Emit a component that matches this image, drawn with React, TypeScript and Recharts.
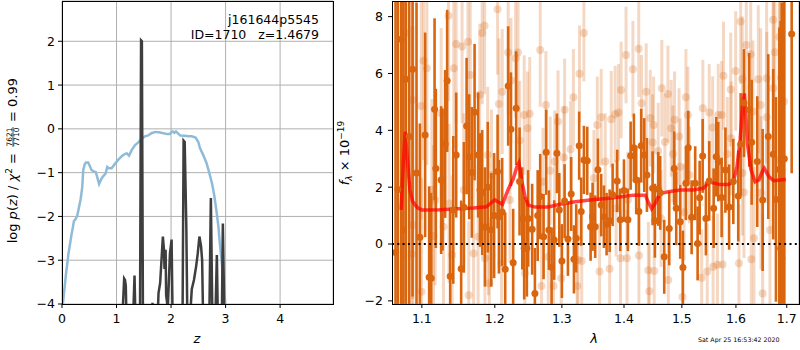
import React from 'react';
import {
  LineChart,
  ComposedChart,
  Line,
  Scatter,
  ErrorBar,
  XAxis,
  YAxis,
  CartesianGrid,
} from 'recharts';

// ---- left panel: log p(z) ----
const zTicks = [0, 1, 2, 3, 4];
const pzTicks = [-4, -3, -2, -1, 0, 1, 2];

// smooth p(z) curve [z, log p]
const pzCurve: [number, number][] = [
  [0.0, -4.4], [0.02, -3.95], [0.07, -3.35], [0.12, -2.84], [0.17, -2.45], [0.22, -2.1],
  [0.25, -2.06], [0.28, -1.98], [0.34, -1.62], [0.37, -1.35], [0.39, -0.94], [0.42, -0.8],
  [0.44, -0.77], [0.48, -0.77], [0.51, -0.85], [0.54, -0.94], [0.58, -0.97], [0.62, -0.99],
  [0.65, -1.12], [0.68, -1.26], [0.72, -1.15], [0.75, -1.09], [0.8, -1.02], [0.83, -0.87],
  [0.86, -0.9], [0.91, -0.9], [0.97, -0.8], [1.03, -0.71], [1.1, -0.62], [1.16, -0.57],
  [1.19, -0.56], [1.23, -0.61], [1.28, -0.48], [1.34, -0.37], [1.4, -0.31], [1.46, -0.23],
  [1.52, -0.17], [1.58, -0.15], [1.64, -0.1], [1.71, -0.07], [1.78, -0.08], [1.86, -0.1],
  [1.93, -0.12], [1.98, -0.12], [2.01, -0.07], [2.03, -0.06], [2.06, -0.09], [2.09, -0.06],
  [2.13, -0.11], [2.17, -0.15], [2.25, -0.16], [2.32, -0.17], [2.38, -0.17], [2.45, -0.2],
  [2.5, -0.3], [2.53, -0.44], [2.59, -0.6], [2.65, -0.78], [2.7, -1.0], [2.75, -1.24],
  [2.79, -1.5], [2.83, -1.85], [2.87, -2.25], [2.9, -2.69], [2.93, -3.05], [2.96, -3.45],
  [2.99, -3.94], [3.03, -4.5],
];

// spiky chi2 curve [z, log p]
const chiCurve: [number, number][] = [
  [1.1, -4.5], [1.14, -3.42], [1.155, -3.45], [1.17, -3.58], [1.185, -4.5],
  [1.3, -4.5], [1.33, -3.35], [1.35, -4.5],
  [1.43, -4.5], [1.45, 2.02], [1.465, 2.0], [1.485, -4.5],
  [1.64, -4.5], [1.66, -3.97], [1.68, -4.5],
  [1.75, -4.5], [1.77, -3.75], [1.8, -3.52], [1.85, -2.46], [1.87, -2.76], [1.88, -3.2],
  [1.9, -2.76], [1.91, -3.8], [1.94, -4.1], [1.98, -2.84], [2.01, -2.53], [2.03, -4.5],
  [2.21, -4.5], [2.23, -0.27], [2.25, -0.3], [2.28, -2.23], [2.3, -4.5],
  [2.34, -4.5], [2.38, -3.66], [2.42, -3.45], [2.46, -3.14], [2.49, -2.84], [2.52, -2.46],
  [2.55, -2.68], [2.57, -3.0], [2.59, -4.5],
  [2.7, -4.5], [2.73, -1.58], [2.76, -4.5],
  [2.81, -4.5], [2.84, -2.88], [2.86, -4.5],
  [2.93, -4.5], [2.95, -2.16], [2.98, -4.5],
];

// ---- right panel: spectrum ----
const lamTicks = [1.1, 1.2, 1.3, 1.4, 1.5, 1.6, 1.7];
const fluxTicks = [-2, 0, 2, 4, 6, 8];

// good pixels [lambda, flux, err]
const darkPts: [number, number, number][] = [
  [1.066, -0.3, 10], [1.069, 1.92, 11], [1.0732, 7.2, 11], [1.076, 0.5, 10], [1.0792, 5.8, 9],
  [1.0835, 3.78, 9], [1.0879, 6.15, 8], [1.093, 2.5, 6], [1.0974, 0.24, 4], [1.1043, 3.84, 3.6],
  [1.1096, -1.17, 3.2], [1.1123, -1.2, 3.0], [1.1168, 4.74, 3.2], [1.1185, 2.66, 2.8],
  [1.1256, 2.25, 2.6], [1.1275, 2.27, 2.5], [1.131, 3.52, 2.6], [1.1337, 5.74, 2.5],
  [1.1378, -1.13, 2.4], [1.142, 1.2, 2.6], [1.146, 3.13, 2.2], [1.1528, -0.87, 2.4],
  [1.1565, 1.29, 2.3], [1.1603, 4.15, 2.4], [1.1639, 3.07, 2.2], [1.1676, 2.52, 2.3],
  [1.1714, 4.64, 2.4], [1.1764, 3.13, 2.2], [1.179, 1.9, 2.0], [1.1821, 1.81, 2.2],
  [1.186, 0.6, 2.1], [1.19, 2.0, 2.3], [1.195, 0.5, 2.0], [1.199, 1.0, 2.2],
  [1.204, 2.55, 2.0], [1.2059, 0.96, 2.0], [1.2106, 1.13, 1.9], [1.215, -0.89, 2.0],
  [1.2193, 5.56, 2.1], [1.2233, 4.04, 2.0], [1.2266, -0.66, 1.9], [1.231, 4.78, 2.0],
  [1.236, 2.2, 1.9], [1.24, 0.9, 1.8], [1.2428, -0.15, 1.8], [1.2468, -0.15, 1.7],
  [1.2488, 0.9, 1.7], [1.2547, 0.52, 1.6], [1.2588, -1.74, 1.6], [1.263, 1.0, 1.6],
  [1.2668, 1.67, 1.5], [1.2719, 0.26, 1.5], [1.2759, 3.23, 1.5], [1.28, 0.49, 1.4],
  [1.2841, -0.82, 1.4], [1.2881, 0.14, 1.4], [1.2923, 3.19, 1.4], [1.296, 1.2, 1.3],
  [1.3, -0.6, 1.3], [1.3042, 1.51, 1.3], [1.3094, 0.18, 1.3], [1.3145, 1.76, 1.3],
  [1.3188, -0.54, 1.2], [1.3224, 0.2, 1.2], [1.3271, 3.46, 1.2], [1.3303, 1.14, 1.2],
  [1.3346, 2.96, 1.2], [1.3399, 2.93, 1.2], [1.3453, 0.61, 1.2], [1.3485, 0.96, 1.2],
  [1.3527, 0.61, 1.1], [1.3571, 2.61, 1.1], [1.3624, 1.37, 1.1], [1.3668, 0.96, 1.1],
  [1.3712, 0.7, 1.1], [1.3762, 0.82, 1.1], [1.3811, 1.73, 1.1], [1.3887, 2.22, 1.1],
  [1.3937, 0.85, 1.1], [1.3999, 1.88, 1.1], [1.4065, 0.85, 1.1], [1.4111, 3.11, 1.2],
  [1.4166, 3.39, 1.2], [1.4205, 2.25, 1.2], [1.4251, 1.14, 1.2], [1.429, 3.46, 1.3],
  [1.4342, 3.13, 1.3], [1.4388, 2.43, 1.3], [1.4486, 1.96, 1.3], [1.4526, 0.82, 1.3],
  [1.4583, 1.94, 1.3], [1.4618, 1.8, 1.3], [1.4688, -0.45, 1.3], [1.4776, 0.55, 1.3],
  [1.4864, 2.66, 1.3], [1.49, 1.26, 1.3], [1.4971, 0.78, 1.3], [1.5019, -0.83, 1.3],
  [1.5073, 2.14, 1.3], [1.5115, 3.39, 1.3], [1.5176, 0.94, 1.3], [1.5241, 2.14, 1.3],
  [1.5285, 0.02, 1.3], [1.5322, 1.63, 1.3], [1.5377, 3.1, 1.3], [1.5437, 0.9, 1.3],
  [1.5498, 2.22, 1.4], [1.558, 1.26, 1.4], [1.5628, 3.07, 1.4], [1.5666, 2.9, 1.4],
  [1.5729, 1.64, 1.4], [1.58, 2.6, 1.5], [1.587, 1.3, 1.5], [1.595, 2.2, 1.5],
  [1.6044, 1.69, 1.6], [1.609, 3.51, 1.8], [1.6154, 4.96, 1.9], [1.6256, 4.72, 2.0],
  [1.6303, 3.58, 2.2], [1.6412, 2.9, 2.3], [1.6518, 1.55, 2.5], [1.6629, 3.78, 2.9],
  [1.6728, 3.16, 3.0], [1.6782, 1.57, 3.6], [1.6849, 2.62, 5], [1.6877, -0.15, 8],
  [1.69, -0.5, 9], [1.695, 3.0, 9], [1.71, 7.39, 4.9],
];

// down-weighted pixels [lambda, flux, err]
const lightPts: [number, number, number][] = [
  [1.0784, 7.42, 8], [1.087, -0.35, 8], [1.0879, 5.07, 7], [1.0884, 0.67, 7], [1.0991, 4.86, 4],
  [1.0995, -1.68, 4], [1.1022, 6.45, 3.5], [1.1066, 6.18, 3.4], [1.1132, 1.9, 3.2], [1.1154, 0.28, 3.2],
  [1.1176, 1.55, 3.0], [1.1256, 4.6, 3.0], [1.1287, 0.61, 3.0], [1.1355, 8.03, 3.0], [1.1363, 1.43, 2.8],
  [1.1404, -0.39, 2.8], [1.1427, 6.18, 2.8], [1.1459, 7.04, 2.8], [1.1541, 6.95, 2.7], [1.1564, 1.9, 2.7],
  [1.1622, 7.12, 2.7], [1.1632, -1.8, 2.6], [1.1654, 5.95, 2.6], [1.17, -0.33, 2.6], [1.1764, 0.26, 2.5],
  [1.1787, 5.25, 2.5], [1.1821, 7.42, 2.5], [1.1855, 7.68, 2.4], [1.186, -0.5, 2.4], [1.1899, 3.13, 2.4],
  [1.191, 0.6, 2.4], [1.1922, -1.38, 2.3], [1.1953, 2.43, 2.3], [1.204, 8.26, 2.3], [1.2059, 4.93, 2.3],
  [1.2096, -0.68, 2.2], [1.2106, 5.36, 2.2], [1.2193, 6.74, 2.2], [1.2219, 1.55, 2.2], [1.2233, 5.75, 2.2],
  [1.2302, 6.54, 2.1], [1.2337, 6.74, 2.1], [1.2361, 3.64, 2.1], [1.2428, 4.54, 2.1], [1.2438, -1.03, 2.0],
  [1.2478, 4.07, 2.0], [1.251, 4.58, 2.0], [1.2668, 6.83, 2.0], [1.2688, -1.48, 1.9], [1.271, 2.19, 1.9],
  [1.2754, 4.89, 1.9], [1.279, -0.45, 1.9], [1.282, 2.58, 1.9], [1.2872, -1.48, 1.8], [1.289, 2.9, 1.8],
  [1.294, 4.31, 1.8], [1.2989, -1.2, 1.8], [1.303, 3.04, 1.8], [1.3042, 4.72, 1.8], [1.3136, 3.33, 1.7],
  [1.318, 5.16, 1.7], [1.3239, -1.48, 1.7], [1.325, -0.56, 1.7], [1.3276, 5.99, 1.7], [1.3311, -0.6, 1.7],
  [1.3346, 7.42, 1.7], [1.3506, 2.31, 1.7], [1.356, 4.19, 1.7], [1.3598, -0.97, 1.7], [1.3624, 4.46, 1.7],
  [1.369, 2.9, 1.7], [1.3762, -0.87, 1.7], [1.3788, 4.39, 1.7], [1.3853, 4.57, 1.7], [1.3869, 1.26, 1.7],
  [1.3908, 4.63, 1.7], [1.3942, -0.5, 1.7], [1.3952, 5.42, 1.7], [1.4034, 6.65, 1.7], [1.405, -0.5, 1.7],
  [1.4065, 1.55, 1.7], [1.4149, 6.15, 1.7], [1.4248, 6.87, 1.7], [1.4251, -0.4, 1.7], [1.4296, 4.95, 1.7],
  [1.4375, 5.36, 1.7], [1.4413, -0.92, 1.7], [1.443, -1.66, 1.7], [1.4446, 4.43, 1.7], [1.4486, 3.57, 1.7],
  [1.4503, 4.19, 1.7], [1.4513, -0.95, 1.7], [1.4583, 3.27, 1.7], [1.4634, 0.9, 1.7], [1.4646, 5.48, 1.7],
  [1.47, 3.59, 1.7], [1.4753, 5.28, 1.7], [1.476, -1.27, 1.7], [1.4811, 4.07, 1.7], [1.4841, 3.17, 1.7],
  [1.487, 4.37, 1.7], [1.495, 3.78, 1.7], [1.4971, 2.72, 1.7], [1.5012, -1.86, 1.7], [1.504, 1.12, 1.7],
  [1.5073, 5.16, 1.7], [1.5109, 4.54, 1.7], [1.5137, 2.43, 1.7], [1.5359, -1.19, 1.7], [1.538, 4.78, 1.7],
  [1.5461, -0.97, 1.7], [1.5498, 4.63, 1.7], [1.5562, 4.1, 1.8], [1.557, -0.8, 1.8], [1.565, -0.73, 1.8],
  [1.5666, 4.54, 1.8], [1.5729, 4.54, 1.9], [1.5747, -0.72, 1.9], [1.5764, 5.92, 1.9], [1.5836, 3.17, 2.0],
  [1.59, 5.44, 2.0], [1.591, 3.72, 2.0], [1.5995, 6.09, 2.1], [1.6058, -0.68, 2.1], [1.609, 7.83, 2.2],
  [1.6121, 5.81, 2.2], [1.6125, 2.5, 2.2], [1.6154, 1.81, 2.3], [1.6198, 7.0, 2.3], [1.6284, 6.68, 2.4],
  [1.6296, -0.54, 2.4], [1.6328, 4.66, 2.5], [1.6348, 0.2, 2.5], [1.6432, 5.8, 2.6], [1.6479, 4.89, 2.7],
  [1.6485, 1.8, 2.7], [1.6518, -1.74, 2.8], [1.6597, 5.83, 3.0], [1.66, 4.46, 3.0], [1.6663, 0.49, 3.2],
  [1.6728, 7.89, 3.5], [1.673, 5.48, 3.5], [1.6762, 6.75, 3.8], [1.6849, 7.28, 6], [1.6863, 2.96, 6],
  [1.6883, 5.86, 7], [1.6943, 5.01, 8],
];

// best-fit template [lambda, flux]
const modelCurve: [number, number][] = [
  [1.0732, 1.2], [1.076, 2.9], [1.0784, 3.95], [1.081, 3.0], [1.0845, 1.9], [1.0879, 1.5],
  [1.094, 1.28], [1.1, 1.2], [1.1237, 1.21], [1.1466, 1.24], [1.1695, 1.27], [1.188, 1.31],
  [1.2, 1.55], [1.205, 1.48], [1.211, 1.4], [1.219, 1.9], [1.227, 2.31], [1.232, 2.72],
  [1.235, 2.86], [1.239, 2.25], [1.244, 1.67], [1.249, 1.37], [1.259, 1.3], [1.279, 1.3],
  [1.297, 1.4], [1.318, 1.48], [1.344, 1.55], [1.371, 1.6], [1.399, 1.67], [1.416, 1.72],
  [1.436, 1.72], [1.441, 1.48], [1.447, 1.24], [1.453, 1.43], [1.461, 1.78], [1.476, 1.84],
  [1.497, 1.9], [1.52, 1.9], [1.539, 1.96], [1.55, 2.19], [1.557, 2.15], [1.57, 2.09],
  [1.586, 2.09], [1.595, 2.19], [1.602, 2.72], [1.608, 3.66], [1.613, 4.9], [1.616, 5.3],
  [1.619, 4.6], [1.622, 3.54], [1.629, 2.61], [1.637, 2.19], [1.644, 2.25], [1.651, 2.55],
  [1.655, 2.66], [1.664, 2.37], [1.674, 2.23], [1.687, 2.25], [1.698, 2.27],
];

const zeroLevel: [number, number][] = [
  [1.0615, 0],
  [1.725, 0],
];

const ORANGE = '#d9650f';
const ORANGE_LIGHT = 'rgba(217,101,15,0.25)';
const FONT = '"DejaVu Sans", sans-serif';

const LAM_DOMAIN: [number, number] = [1.0615, 1.725];
const FLUX_DOMAIN: [number, number] = [-2.11, 8.55];

const minus = (v: number) => (v < 0 ? '\u2212' + Math.abs(v) : String(v));

const tickStyle = { fill: '#000', fontSize: 12.5, fontFamily: FONT };

const frame = (left: number, width: number): React.CSSProperties => ({
  position: 'absolute',
  left,
  top: 1,
  width,
  height: 304,
  border: '1px solid #000',
  boxSizing: 'border-box',
  pointerEvents: 'none',
});

const rightMargin = { top: 1, right: 1, bottom: 0, left: 0 };

export default function App() {
  const pz = pzCurve.map(([z, v]) => ({ z, v }));
  const chi = chiCurve.map(([z, v]) => ({ z, v }));
  const dark = darkPts.map(([lam, f, err]) => ({ lam, f, err }));
  const light = lightPts.map(([lam, f, err]) => ({ lam, f, err }));
  const model = modelCurve.map(([lam, f]) => ({ lam, f }));
  const zero = zeroLevel.map(([lam, f]) => ({ lam, f }));

  return (
    <div
      style={{
        position: 'absolute',
        left: 0,
        top: 0,
        width: 800,
        height: 350,
        background: '#fff',
        fontFamily: FONT,
      }}
    >
      <div style={{ position: 'absolute', left: 0, top: 0 }}>
        <LineChart width={340} height={350} margin={{ top: 1, right: 7, bottom: 0, left: 0 }}>
          <CartesianGrid stroke="#b0b0b0" strokeWidth={1} />
          <XAxis
            dataKey="z"
            type="number"
            domain={[0, 4.97]}
            ticks={zTicks}
            allowDataOverflow
            axisLine={false}
            tickLine={{ stroke: '#000' }}
            tickSize={4}
            tickMargin={6}
            tick={tickStyle}
            height={46}
          />
          <YAxis
            type="number"
            domain={[-4, 2.92]}
            ticks={pzTicks}
            allowDataOverflow
            axisLine={false}
            tickLine={{ stroke: '#000' }}
            tickSize={4}
            tickMargin={3}
            tick={tickStyle}
            tickFormatter={minus}
            width={62}
          />
          <Line
            data={pz}
            dataKey="v"
            stroke="#8fbbd9"
            strokeWidth={2.5}
            dot={false}
            isAnimationActive={false}
          />
          <Line
            data={chi}
            dataKey="v"
            stroke="#3e3e3e"
            strokeWidth={2.5}
            dot={false}
            isAnimationActive={false}
          />
        </LineChart>
      </div>
      <div style={frame(62, 272)} />

      {/* right panel: axes layer */}
      <div style={{ position: 'absolute', left: 340, top: 0 }}>
        <ComposedChart width={460} height={350} margin={rightMargin}>
          <XAxis
            dataKey="lam"
            type="number"
            scale="log"
            domain={LAM_DOMAIN}
            ticks={lamTicks}
            allowDataOverflow
            axisLine={false}
            tickLine={{ stroke: '#000' }}
            tickSize={4}
            tickMargin={6}
            tick={tickStyle}
            tickFormatter={(v: number) => v.toFixed(1)}
            height={46}
          />
          <YAxis
            dataKey="f"
            type="number"
            domain={FLUX_DOMAIN}
            ticks={fluxTicks}
            allowDataOverflow
            axisLine={false}
            tickLine={{ stroke: '#000' }}
            tickSize={4}
            tickMargin={5}
            tick={tickStyle}
            tickFormatter={minus}
            width={52}
          />
          <Line data={zero} dataKey="f" stroke="none" dot={false} isAnimationActive={false} />
        </ComposedChart>
      </div>

      {/* right panel: data layer, clipped to the plot box */}
      <div
        style={{
          position: 'absolute',
          left: 340,
          top: 0,
          width: 460,
          height: 350,
          clipPath: 'inset(1px 1px 46px 52px)',
        }}
      >
        <ComposedChart width={460} height={350} margin={rightMargin}>
          <CartesianGrid stroke="#b0b0b0" strokeWidth={1} />
          <XAxis
            dataKey="lam"
            type="number"
            scale="log"
            domain={LAM_DOMAIN}
            ticks={lamTicks}
            allowDataOverflow
            axisLine={false}
            tickLine={false}
            tick={false}
            height={46}
          />
          <YAxis
            dataKey="f"
            type="number"
            domain={FLUX_DOMAIN}
            ticks={fluxTicks}
            allowDataOverflow
            axisLine={false}
            tickLine={false}
            tick={false}
            width={52}
          />
          <Scatter
            data={light}
            dataKey="f"
            isAnimationActive={false}
            shape={(p: any) => <circle cx={p.cx} cy={p.cy} r={4} fill={ORANGE_LIGHT} />}
          >
            <ErrorBar dataKey="err" direction="y" width={0} strokeWidth={3} stroke={ORANGE_LIGHT} />
          </Scatter>
          <Scatter
            data={dark}
            dataKey="f"
            isAnimationActive={false}
            shape={(p: any) => <circle cx={p.cx} cy={p.cy} r={3.5} fill={ORANGE} />}
          >
            <ErrorBar dataKey="err" direction="y" width={0} strokeWidth={2.6} stroke={ORANGE} />
          </Scatter>
          <Line
            data={model}
            dataKey="f"
            stroke="#ff0000"
            strokeOpacity={0.72}
            strokeWidth={3.5}
            dot={false}
            isAnimationActive={false}
          />
          <Line
            data={zero}
            dataKey="f"
            stroke="#000"
            strokeWidth={2}
            strokeDasharray="2 3.3"
            dot={false}
            isAnimationActive={false}
          />
        </ComposedChart>
      </div>
      <div style={frame(392, 408)} />

      <svg
        width={800}
        height={350}
        style={{ position: 'absolute', left: 0, top: 0, pointerEvents: 'none' }}
        fontFamily={FONT}
      >
        {/* left panel annotations */}
        <text x={319} y={24} textAnchor="end" fontSize={12.5}>j161644p5545</text>
        <text x={319} y={39} textAnchor="end" fontSize={12.5} xmlSpace="preserve">
          ID=1710   z=1.4679
        </text>
        <text x={197} y={343} textAnchor="middle" fontSize={13} fontStyle="italic">z</text>
        <g transform="translate(17,153) rotate(-90)">
          <text x={0} y={0} textAnchor="end" fontSize={13}>
            log <tspan fontStyle="italic">p</tspan>(<tspan fontStyle="italic">z</tspan>) /{' '}
            <tspan fontStyle="italic">χ</tspan>
            <tspan fontSize={9} dy={-5}>2</tspan>
            <tspan dy={5}> =</tspan>
          </text>
          <text x={16} y={-5} textAnchor="middle" fontSize={7.5}>7621</text>
          <line x1={6} x2={26} y1={-4} y2={-4} stroke="#000" strokeWidth={0.7} />
          <text x={16} y={2} textAnchor="middle" fontSize={7.5}>7710</text>
          <text x={31} y={0} textAnchor="start" fontSize={13}>= 0.99</text>
        </g>

        {/* right panel annotations */}
        <text x={594} y={343} textAnchor="middle" fontSize={13} fontStyle="italic">λ</text>
        <g transform="translate(349,153) rotate(-90)">
          <text x={0} y={0} textAnchor="middle" fontSize={13}>
            <tspan fontStyle="italic">f</tspan>
            <tspan fontSize={9} dy={3} fontStyle="italic">λ</tspan>
            <tspan dy={-3}> × 10</tspan>
            <tspan fontSize={9} dy={-5}>−19</tspan>
          </text>
        </g>
        <text x={698} y={342} fontSize={6.3}>Sat Apr 25 16:53:42 2020</text>
      </svg>
    </div>
  );
}
